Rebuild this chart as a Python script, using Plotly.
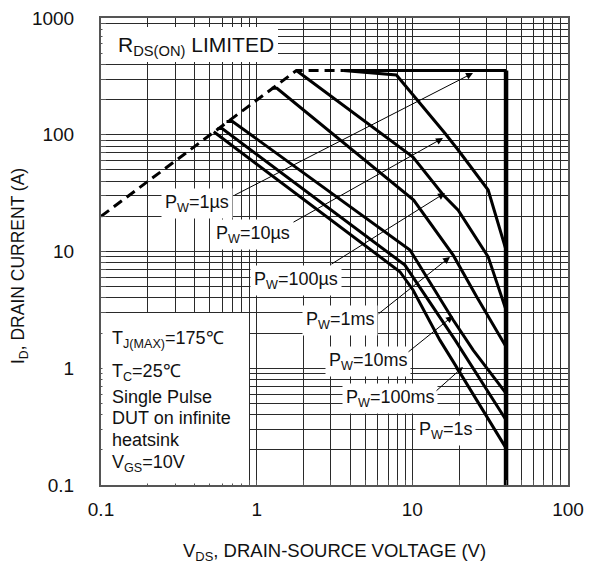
import plotly.graph_objects as go

# ---------------- data ----------------
# R_DS(ON) limit (dashed) and current plateau
rds_v = [0.1, 1.8, 3.6]
rds_i = [20, 355, 355]
# 1 us boundary (current limit and max VDS)
lim_top_v = [3.6, 40]
lim_top_i = [355, 355]
lim_vds_v = [40, 40]
lim_vds_i = [355, 0.1]

pw10us_v = [3.6, 7.9, 16.2, 19.7, 30.7, 40]
pw10us_i = [355, 325, 103, 74, 33.6, 10.3]

pw100us_v = [1.8, 10.1, 15.8, 19.7, 30.7, 40]
pw100us_i = [355, 64.5, 30.5, 22.6, 9.0, 3.16]

pw1ms_v = [1.25, 1.35, 10.2, 18.3, 25.9, 40]
pw1ms_i = [250, 250, 27.6, 9.3, 4.1, 1.53]

pw10ms_v = [0.64, 0.70, 9.66, 18.3, 24.6, 40]
pw10ms_i = [130, 130, 10.3, 2.59, 1.43, 0.61]

pw100ms_v = [0.56, 0.60, 8.96, 11.5, 18.8, 40]
pw100ms_i = [113, 113, 7.65, 4.68, 1.75, 0.36]

pw1s_v = [0.53, 8.32, 10.1, 15.0, 18.3, 40]
pw1s_i = [106, 6.71, 4.68, 1.75, 1.14, 0.207]

x_ticks = [0.1, 1, 10, 100]
x_ticktext = ["0.1", "1", "10", "100"]
y_ticks = [0.1, 1, 10, 100, 1000]
y_ticktext = ["0.1", "1", "10", "100", "1000"]

FONT = "Liberation Sans, Arial, sans-serif"


def minor_vals(lo_exp, hi_exp):
    vals = []
    for e in range(lo_exp, hi_exp):
        for m in range(2, 10):
            vals.append(round(m * 10.0 ** e, 6))
    return vals


fig = go.Figure()

fig.add_trace(go.Scatter(x=rds_v, y=rds_i, mode="lines",
                         line=dict(color="black", width=3, dash="10px,6px")))
fig.add_trace(go.Scatter(x=lim_top_v, y=lim_top_i, mode="lines",
                         line=dict(color="black", width=3)))
fig.add_trace(go.Scatter(x=lim_vds_v, y=lim_vds_i, mode="lines",
                         line=dict(color="black", width=4.5)))
for vv, ii in [(pw10us_v, pw10us_i), (pw100us_v, pw100us_i), (pw1ms_v, pw1ms_i),
               (pw10ms_v, pw10ms_i), (pw100ms_v, pw100ms_i), (pw1s_v, pw1s_i)]:
    fig.add_trace(go.Scatter(x=vv, y=ii, mode="lines",
                             line=dict(color="black", width=3)))

axis_common = dict(type="log", showgrid=True, gridcolor="#2a2a2a", gridwidth=1,
                   showline=True, linecolor="#555555", linewidth=2, mirror=True,
                   ticks="inside", ticklen=5, tickcolor="#555555", zeroline=False,
                   automargin=False, ticklabeloverflow="allow",
                   tickfont=dict(family=FONT, size=19, color="#111111"))

fig.update_xaxes(range=[-1, 2], tickvals=x_ticks, ticktext=x_ticktext, ticklabelstandoff=6,
                 minor=dict(tickvals=minor_vals(-1, 2), showgrid=True, gridcolor="#2a2a2a",
                            gridwidth=1, ticks="inside", ticklen=5, tickcolor="#555555"),
                 **axis_common)
fig.update_yaxes(range=[-1, 3], tickvals=y_ticks, ticktext=y_ticktext, ticklabelstandoff=21,
                 minor=dict(tickvals=minor_vals(-1, 3), showgrid=True, gridcolor="#2a2a2a",
                            gridwidth=1, ticks="inside", ticklen=5, tickcolor="#555555"),
                 **axis_common)


# page pixel -> fraction of the plot area (plot area spans 101..568 x 18..485 on the page)
def px2frac(px, py):
    return (px - 101) / 467.0, (485 - py) / 467.0


shapes = []
# white boxes behind the two info blocks (hide grid)
for (x0, y0, x1, y1) in [(102.5, 27, 278, 62), (102.5, 313, 249, 483.5)]:
    a0, b1 = px2frac(x0, y0)
    a1, b0 = px2frac(x1, y1)
    shapes.append(dict(type="rect", xref="paper", yref="paper", x0=a0, x1=a1,
                       y0=b0, y1=b1, fillcolor="white", line=dict(width=0),
                       layer="above"))

ann = []
# R_DS(ON) LIMITED
x, y = px2frac(116, 46)
ann.append(dict(text="R<sub>DS(ON)</sub> LIMITED", x=x, y=y, xref="paper", yref="paper",
                xanchor="left", yanchor="middle", showarrow=False,
                font=dict(family=FONT, size=21, color="#111111")))

# condition block
cond = [("T<sub>J(MAX)</sub>=175\u2103", 339), ("T<sub>C</sub>=25\u2103", 372),
        ("Single Pulse", 397), ("DUT on infinite", 418), ("heatsink", 439.5),
        ("V<sub>GS</sub>=10V", 463)]
for t, py in cond:
    x, y = px2frac(110, py)
    ann.append(dict(text=t, x=x, y=y, xref="paper", yref="paper", xanchor="left",
                    yanchor="middle", showarrow=False,
                    font=dict(family=FONT, size=18, color="#111111")))

# pulse width labels
labels = [("P<sub>W</sub>=1\u00b5s", 197, 203), ("P<sub>W</sub>=10\u00b5s", 253, 234),
          ("P<sub>W</sub>=100\u00b5s", 296, 280), ("P<sub>W</sub>=1ms", 340, 320),
          ("P<sub>W</sub>=10ms", 368, 361), ("P<sub>W</sub>=100ms", 390, 398),
          ("P<sub>W</sub>=1s", 445, 430)]
for t, px, py in labels:
    x, y = px2frac(px, py)
    ann.append(dict(text=t, x=x, y=y, xref="paper", yref="paper", xanchor="center",
                    yanchor="middle", showarrow=False, bgcolor="white", borderpad=3,
                    font=dict(family=FONT, size=18, color="#111111")))

# arrows: (tail px, tail py, tip px, tip py)
arrows = [(233, 196, 473, 73), (292, 223, 443, 138), (330, 265, 445, 193),
          (377, 315, 450, 257), (407, 353, 453, 316), (435, 392, 463, 367)]
for tx, ty, hx, hy in arrows:
    x, y = px2frac(hx, hy)
    ann.append(dict(text="", x=x, y=y, xref="paper", yref="paper", ax=tx - hx, ay=ty - hy,
                    showarrow=True, arrowhead=2, arrowsize=1.4, arrowwidth=1,
                    arrowcolor="black", standoff=0))

# axis titles
x, y = px2frac(334, 552)
ann.append(dict(text="V<sub>DS</sub>, DRAIN-SOURCE VOLTAGE (V)", x=x, y=y, xref="paper",
                yref="paper", xanchor="center", yanchor="middle", showarrow=False,
                font=dict(family=FONT, size=18.5, color="#111111")))
x, y = px2frac(19, 266)
ann.append(dict(text="I<sub>D</sub>, DRAIN CURRENT (A)", x=x, y=y, xref="paper",
                yref="paper", xanchor="center", yanchor="middle", showarrow=False,
                textangle=-90, font=dict(family=FONT, size=17.5, color="#111111")))

# the page body adds an 8 px offset, so the figure is 8 px smaller with smaller left/top margins
fig.update_layout(width=592, height=558, margin=dict(l=93, r=32, t=10, b=81),
                  plot_bgcolor="white", paper_bgcolor="white", showlegend=False,
                  shapes=shapes, annotations=ann)

fig.write_html("out.html")
